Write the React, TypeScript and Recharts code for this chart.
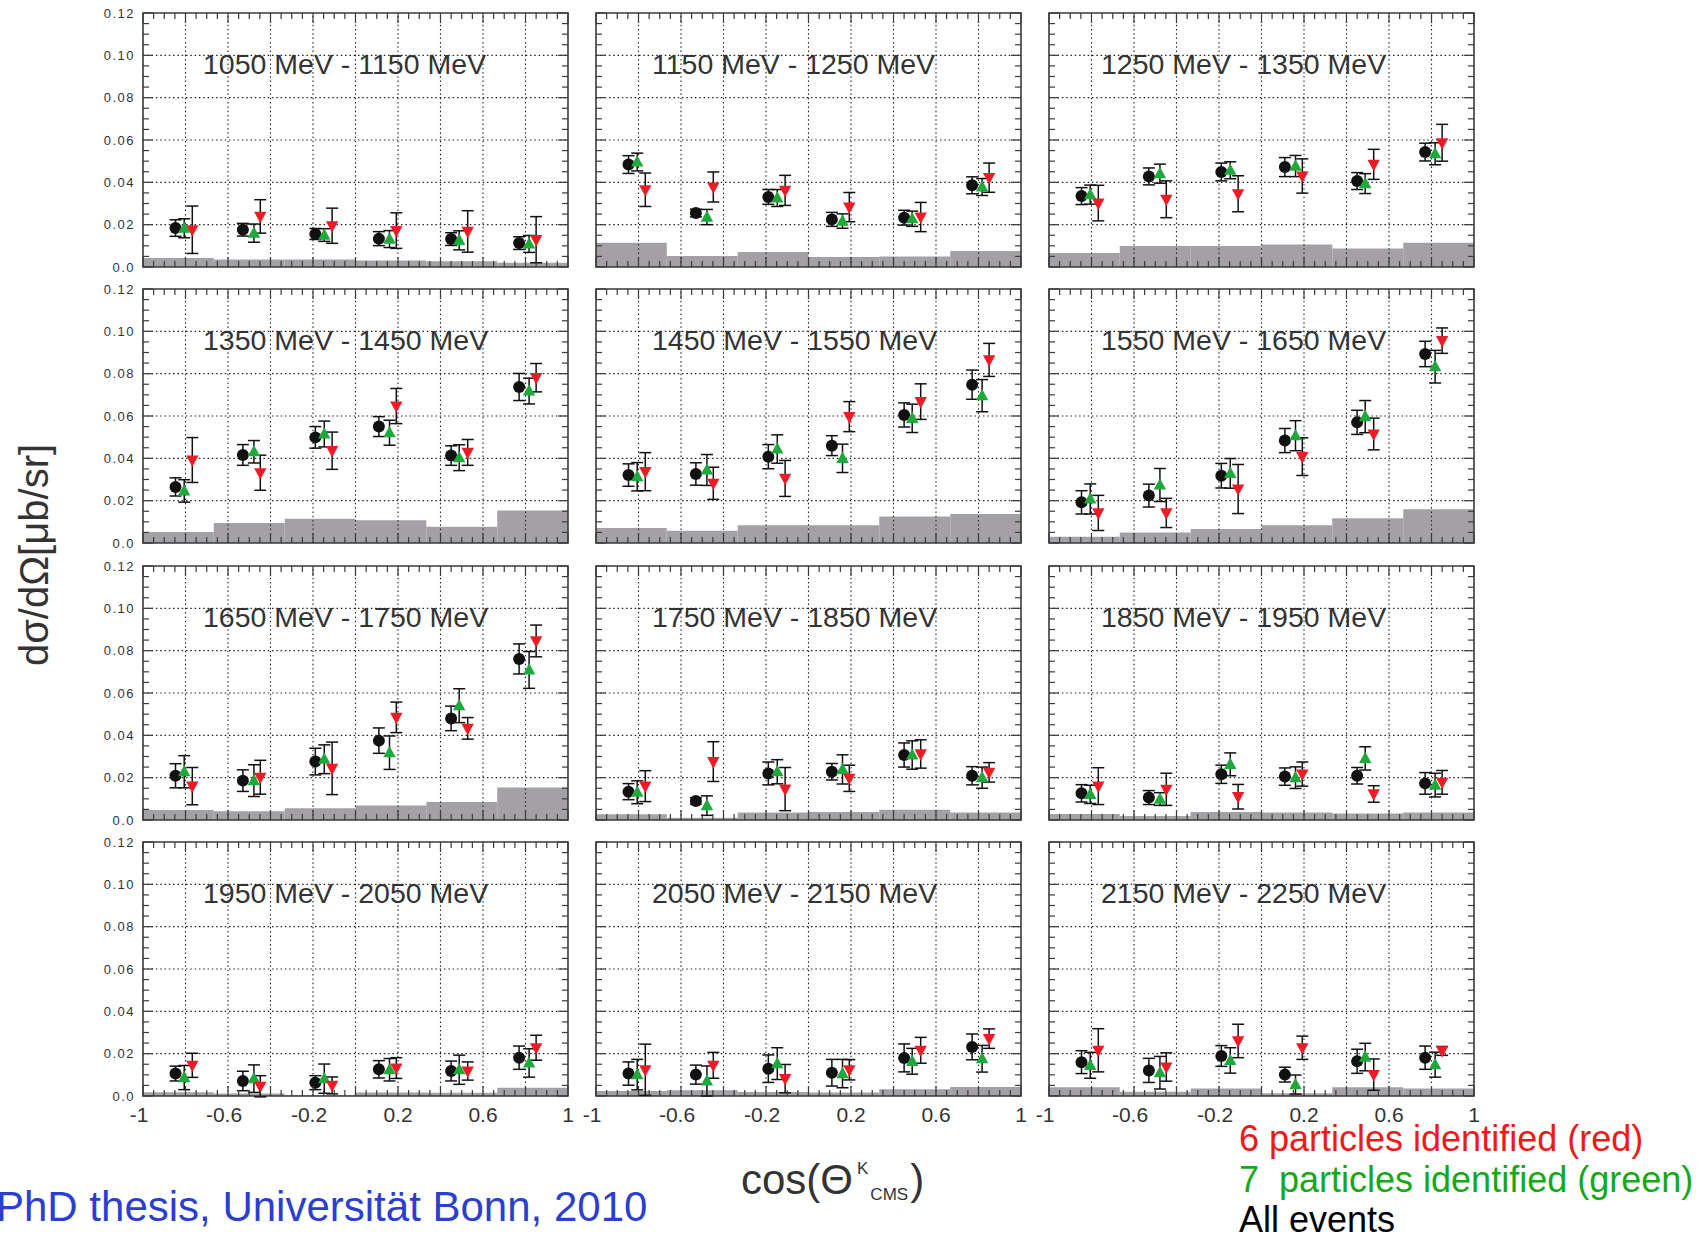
import React from "react";
import {
  ScatterChart,
  Scatter,
  XAxis,
  YAxis,
  ReferenceArea,
  ReferenceLine,
  ErrorBar,
} from "recharts";

// Energy bins, one panel each (row by row)
const ENERGY_BINS = [
  "1050 MeV - 1150 MeV",
  "1150 MeV - 1250 MeV",
  "1250 MeV - 1350 MeV",
  "1350 MeV - 1450 MeV",
  "1450 MeV - 1550 MeV",
  "1550 MeV - 1650 MeV",
  "1650 MeV - 1750 MeV",
  "1750 MeV - 1850 MeV",
  "1850 MeV - 1950 MeV",
  "1950 MeV - 2050 MeV",
  "2050 MeV - 2150 MeV",
  "2150 MeV - 2250 MeV",
];

// cos(theta) positions of the points of each event selection
const COS_ALL = [-0.847, -0.53, -0.189, 0.11, 0.45, 0.77];
const COS_SEVEN = [-0.806, -0.478, -0.147, 0.16, 0.488, 0.817];
const COS_SIX = [-0.768, -0.448, -0.11, 0.192, 0.528, 0.85];

// edges of the angular bins of the systematic band
const BIN_EDGES = [-1, -0.667, -0.333, 0, 0.333, 0.667, 1];

// All events (black circles), dsigma/dOmega [mub/sr]
const ALL_EVENTS = [
  [0.0184, 0.0176, 0.0156, 0.0134, 0.0132, 0.0113],
  [0.0484, 0.0255, 0.0331, 0.0225, 0.0233, 0.0386],
  [0.0335, 0.0428, 0.0449, 0.0472, 0.0406, 0.0543],
  [0.0265, 0.0416, 0.0499, 0.055, 0.0413, 0.0737],
  [0.0321, 0.0326, 0.0408, 0.046, 0.0605, 0.0748],
  [0.0192, 0.0224, 0.0318, 0.0484, 0.057, 0.0893],
  [0.0209, 0.0186, 0.0276, 0.0375, 0.048, 0.0761],
  [0.0134, 0.009, 0.022, 0.0228, 0.0307, 0.0209],
  [0.0126, 0.0106, 0.0216, 0.0205, 0.0209, 0.0173],
  [0.0106, 0.0071, 0.0063, 0.0126, 0.0118, 0.0181],
  [0.0106, 0.0101, 0.0129, 0.011, 0.018, 0.0232],
  [0.016, 0.0121, 0.0189, 0.0101, 0.0164, 0.0181],
];
const ALL_EVENTS_ERR = [
  [0.0039, 0.003, 0.0026, 0.0033, 0.003, 0.003],
  [0.0042, 0.0018, 0.0035, 0.0033, 0.0035, 0.004],
  [0.004, 0.004, 0.0042, 0.0045, 0.004, 0.0042],
  [0.0043, 0.0049, 0.0051, 0.0047, 0.0046, 0.0064],
  [0.0053, 0.0053, 0.0057, 0.0047, 0.0057, 0.0069],
  [0.0055, 0.0054, 0.0058, 0.0057, 0.0057, 0.006],
  [0.0057, 0.0051, 0.0063, 0.006, 0.0058, 0.0071],
  [0.0038, 0.0015, 0.0054, 0.0039, 0.0057, 0.0043],
  [0.0041, 0.0033, 0.0043, 0.0041, 0.0039, 0.0051],
  [0.0035, 0.0046, 0.0033, 0.0041, 0.0047, 0.0055],
  [0.0055, 0.0045, 0.0065, 0.0063, 0.0066, 0.0061],
  [0.0054, 0.0057, 0.0049, 0.0035, 0.0057, 0.0055],
];

// 7 particles identified (green triangles)
const SEVEN_ID = [
  [0.0183, 0.016, 0.0151, 0.0132, 0.0126, 0.0109],
  [0.0496, 0.0236, 0.0326, 0.0217, 0.0228, 0.0378],
  [0.0342, 0.0441, 0.0457, 0.0477, 0.0394, 0.0535],
  [0.0246, 0.0431, 0.0515, 0.0521, 0.0403, 0.0718],
  [0.0313, 0.0345, 0.0444, 0.04, 0.0589, 0.0696],
  [0.0208, 0.0274, 0.0329, 0.0507, 0.0597, 0.0833],
  [0.0228, 0.0186, 0.0287, 0.0318, 0.054, 0.0709],
  [0.0131, 0.0068, 0.0228, 0.0239, 0.0307, 0.02],
  [0.0121, 0.0099, 0.0263, 0.02, 0.0291, 0.0165],
  [0.0087, 0.0082, 0.0082, 0.0124, 0.0124, 0.0156],
  [0.0101, 0.0071, 0.0153, 0.0106, 0.0164, 0.0176],
  [0.0145, 0.011, 0.0168, 0.0054, 0.0184, 0.0148],
];
const SEVEN_ID_ERR = [
  [0.0045, 0.0043, 0.003, 0.004, 0.0045, 0.004],
  [0.0042, 0.0036, 0.004, 0.0034, 0.0036, 0.004],
  [0.0045, 0.0045, 0.004, 0.005, 0.0047, 0.0052],
  [0.0053, 0.0053, 0.0061, 0.0059, 0.0061, 0.0061],
  [0.0067, 0.0073, 0.0067, 0.0067, 0.0067, 0.0076],
  [0.0071, 0.0078, 0.007, 0.0071, 0.0076, 0.0077],
  [0.0076, 0.0075, 0.0068, 0.0079, 0.008, 0.0087],
  [0.0054, 0.0046, 0.0057, 0.0069, 0.0067, 0.005],
  [0.0043, 0.003, 0.0054, 0.0051, 0.0055, 0.0056],
  [0.0057, 0.0065, 0.0069, 0.0053, 0.0069, 0.0067],
  [0.0072, 0.0071, 0.0075, 0.0067, 0.0061, 0.0063],
  [0.0061, 0.0077, 0.006, 0.0045, 0.0065, 0.0059],
];

// 6 particles identified (red triangles)
const SIX_ID = [
  [0.0176, 0.0239, 0.0195, 0.0172, 0.0168, 0.0129],
  [0.0365, 0.0378, 0.0362, 0.0283, 0.0236, 0.0422],
  [0.0302, 0.032, 0.0346, 0.043, 0.0485, 0.0587],
  [0.0392, 0.0332, 0.0436, 0.0647, 0.0428, 0.0781],
  [0.0337, 0.0282, 0.0305, 0.0597, 0.0668, 0.0865],
  [0.0142, 0.0142, 0.0255, 0.0408, 0.0515, 0.0956],
  [0.016, 0.0202, 0.0244, 0.0485, 0.0433, 0.0846],
  [0.016, 0.0276, 0.0146, 0.0197, 0.0312, 0.0225],
  [0.016, 0.0145, 0.011, 0.0217, 0.0123, 0.0178],
  [0.0145, 0.0046, 0.005, 0.0132, 0.0118, 0.0228],
  [0.0124, 0.0145, 0.0082, 0.0124, 0.0216, 0.0271],
  [0.0216, 0.0137, 0.026, 0.0228, 0.0101, 0.0213],
];
const SIX_ID_ERR = [
  [0.0112, 0.0079, 0.0083, 0.0084, 0.0098, 0.0109],
  [0.0079, 0.0071, 0.0071, 0.0069, 0.0069, 0.0069],
  [0.0084, 0.0087, 0.0085, 0.0081, 0.0071, 0.0087],
  [0.0106, 0.0083, 0.0088, 0.0083, 0.0061, 0.0067],
  [0.009, 0.0076, 0.0085, 0.0071, 0.0084, 0.0078],
  [0.0083, 0.0069, 0.0116, 0.0089, 0.0075, 0.006],
  [0.0088, 0.008, 0.0124, 0.0072, 0.0051, 0.0075],
  [0.0073, 0.0094, 0.0102, 0.0062, 0.0067, 0.0046],
  [0.0087, 0.0076, 0.0058, 0.0057, 0.0039, 0.0056],
  [0.0057, 0.005, 0.004, 0.0049, 0.0043, 0.0059],
  [0.0121, 0.0061, 0.0067, 0.0048, 0.0061, 0.0046],
  [0.0102, 0.0067, 0.0079, 0.0055, 0.0074, 0.0021],
];

// systematic uncertainty band (grey histogram)
const SYSTEMATIC = [
  [0.0043, 0.0035, 0.0036, 0.0031, 0.0027, 0.002],
  [0.0115, 0.0052, 0.0071, 0.0047, 0.005, 0.0076],
  [0.0066, 0.0099, 0.0099, 0.0106, 0.0087, 0.0115],
  [0.0052, 0.0095, 0.0114, 0.0107, 0.0077, 0.0153],
  [0.0071, 0.0058, 0.0084, 0.0084, 0.0125, 0.0137],
  [0.003, 0.005, 0.0066, 0.0084, 0.0117, 0.016],
  [0.0047, 0.0041, 0.0055, 0.0068, 0.0085, 0.0154],
  [0.0027, 0.0011, 0.0035, 0.0038, 0.0049, 0.0035],
  [0.0028, 0.0019, 0.0038, 0.0035, 0.0031, 0.0035],
  [0.0018, 0.0012, 0.0004, 0.0017, 0.0015, 0.0039],
  [0.0024, 0.0027, 0.0019, 0.0016, 0.0032, 0.0043],
  [0.0041, 0.002, 0.0036, 0.0013, 0.0041, 0.0036],
];

// axis labels
const X_LABEL_VALUES = [-1, -0.6, -0.2, 0.2, 0.6, 1];
const X_LABELS = ["-1", "-0.6", "-0.2", "0.2", "0.6", "1"];
const Y_LABEL_VALUES = [0, 0.02, 0.04, 0.06, 0.08, 0.1, 0.12];
const Y_LABELS = ["0.0", "0.02", "0.04", "0.06", "0.08", "0.10", "0.12"];
const X_GRID = [-0.8, -0.6, -0.4, -0.2, 0, 0.2, 0.4, 0.6, 0.8];
const Y_GRID = [0.02, 0.04, 0.06, 0.08, 0.1];

// minor tick positions
const X_TICKS = Array.from({ length: 41 }, (_, i) => Math.round((-1 + i * 0.05) * 1000) / 1000);
const Y_TICKS = Array.from({ length: 25 }, (_, i) => Math.round(i * 0.005 * 10000) / 10000);

// layout
const PLOT_W = 425;
const PLOT_H = 254;
const COL_LEFT = [143, 596, 1049];
const ROW_TOP = [13, 289, 566, 842];
const TITLE_X = [203, 652, 1101];
const AXIS_W = 70;
const PAD_TOP = 10;
const PAD_RIGHT = 14;
const AXIS_H = 40;

const FONT = "'Liberation Sans', Arial, Helvetica, sans-serif";
const FRAME = "#3a3a3a";
const TEXT = "#333333";
const GREY = "#a4a1a6";
const BLACK = "#111111";
const GREEN = "#1fa83c";
const RED = "#ec1c27";

const near = (a: number, b: number) => Math.abs(a - b) < 1e-6;

function XTick(props: any) {
  const { x, y, payload, showLabel } = props;
  const v = payload.value;
  const major = near(v * 5, Math.round(v * 5));
  const len = major ? 10 : 6;
  const li = X_LABEL_VALUES.findIndex((t) => near(t, v));
  return (
    <g>
      <line x1={x} y1={y} x2={x} y2={y - len} stroke={FRAME} strokeWidth={1.2} />
      <line x1={x} y1={y - PLOT_H} x2={x} y2={y - PLOT_H + len} stroke={FRAME} strokeWidth={1.2} />
      {showLabel && li >= 0 ? (
        <text
          x={x + (v < 0 ? -4 : 0)}
          y={y + 25.5}
          textAnchor="middle"
          fontSize={21}
          fontFamily={FONT}
          fill={TEXT}
        >
          {X_LABELS[li]}
        </text>
      ) : null}
    </g>
  );
}

function YTick(props: any) {
  const { x, y, payload, showLabel } = props;
  const v = payload.value;
  const major = near(v * 50, Math.round(v * 50));
  const len = major ? 10 : 6;
  const li = Y_LABEL_VALUES.findIndex((t) => near(t, v));
  return (
    <g>
      <line x1={x} y1={y} x2={x + len} y2={y} stroke={FRAME} strokeWidth={1.2} />
      <line x1={x + PLOT_W} y1={y} x2={x + PLOT_W - len} y2={y} stroke={FRAME} strokeWidth={1.2} />
      {showLabel && li >= 0 ? (
        <text
          x={x - 8}
          y={y}
          dy="0.36em"
          textAnchor="end"
          fontSize={13}
          letterSpacing={1.5}
          fontFamily={FONT}
          fill={TEXT}
        >
          {Y_LABELS[li]}
        </text>
      ) : null}
    </g>
  );
}

const circleShape = (p: any) => <circle cx={p.cx} cy={p.cy} r={6} fill={BLACK} />;
const upTriangle = (p: any) => (
  <polygon
    points={`${p.cx},${p.cy - 6.8} ${p.cx - 6.2},${p.cy + 4.6} ${p.cx + 6.2},${p.cy + 4.6}`}
    fill={GREEN}
  />
);
const downTriangle = (p: any) => (
  <polygon
    points={`${p.cx - 6.2},${p.cy - 4.6} ${p.cx + 6.2},${p.cy - 4.6} ${p.cx},${p.cy + 6.8}`}
    fill={RED}
  />
);

const toPoints = (xs: number[], ys: number[], es: number[]) =>
  xs.map((x, i) => ({ x, y: ys[i], e: es[i] }));

function Panel({ idx }: { idx: number }) {
  const row = Math.floor(idx / 3);
  const col = idx % 3;
  const showY = col === 0;
  const showX = row === 3;
  const all = toPoints(COS_ALL, ALL_EVENTS[idx], ALL_EVENTS_ERR[idx]);
  const seven = toPoints(COS_SEVEN, SEVEN_ID[idx], SEVEN_ID_ERR[idx]);
  const six = toPoints(COS_SIX, SIX_ID[idx], SIX_ID_ERR[idx]);
  const sys = SYSTEMATIC[idx];
  return (
    <div style={{ position: "absolute", left: COL_LEFT[col] - AXIS_W, top: ROW_TOP[row] - PAD_TOP }}>
      <ScatterChart
        width={AXIS_W + PLOT_W + PAD_RIGHT}
        height={PAD_TOP + PLOT_H + AXIS_H}
        margin={{ top: PAD_TOP, right: PAD_RIGHT, bottom: 0, left: 0 }}
      >
        {X_GRID.map((v) => (
          <ReferenceLine key={`gx${v}`} x={v} stroke="#222" strokeWidth={1.1} strokeDasharray="1.5 2.8" />
        ))}
        {Y_GRID.map((v) => (
          <ReferenceLine key={`gy${v}`} y={v} stroke="#222" strokeWidth={1.1} strokeDasharray="1.5 2.8" />
        ))}
        {sys.map((s, i) => (
          <ReferenceArea
            key={`sys${i}`}
            x1={BIN_EDGES[i]}
            x2={BIN_EDGES[i + 1]}
            y1={0}
            y2={s}
            fill={GREY}
            fillOpacity={1}
            stroke="none"
          />
        ))}
        <ReferenceArea x1={-1} x2={1} y1={0} y2={0.12} fill="none" stroke={FRAME} strokeWidth={1.6} />
        <XAxis
          type="number"
          dataKey="x"
          domain={[-1, 1]}
          allowDataOverflow
          ticks={X_TICKS}
          interval={0}
          tickSize={0}
          tickMargin={0}
          tickLine={false}
          axisLine={false}
          height={AXIS_H}
          tick={(p: any) => <XTick {...p} showLabel={showX} />}
        />
        <YAxis
          type="number"
          dataKey="y"
          domain={[0, 0.12]}
          allowDataOverflow
          ticks={Y_TICKS}
          interval={0}
          tickSize={0}
          tickMargin={0}
          tickLine={false}
          axisLine={false}
          width={AXIS_W}
          tick={(p: any) => <YTick {...p} showLabel={showY} />}
        />
        <Scatter data={all} shape={circleShape} isAnimationActive={false}>
          <ErrorBar dataKey="e" direction="y" width={6} stroke={BLACK} strokeWidth={1.5} />
        </Scatter>
        <Scatter data={seven} shape={upTriangle} isAnimationActive={false}>
          <ErrorBar dataKey="e" direction="y" width={6} stroke={BLACK} strokeWidth={1.5} />
        </Scatter>
        <Scatter data={six} shape={downTriangle} isAnimationActive={false}>
          <ErrorBar dataKey="e" direction="y" width={6} stroke={BLACK} strokeWidth={1.5} />
        </Scatter>
      </ScatterChart>
    </div>
  );
}

export default function App() {
  return (
    <div
      style={{
        position: "absolute",
        left: 0,
        top: 0,
        width: 1697,
        height: 1237,
        overflow: "hidden",
        background: "#ffffff",
      }}
    >
      {ENERGY_BINS.map((_, i) => (
        <Panel key={i} idx={i} />
      ))}
      <svg
        width={1697}
        height={1237}
        style={{ position: "absolute", left: 0, top: 0, pointerEvents: "none" }}
        fontFamily={FONT}
      >
        {ENERGY_BINS.map((t, i) => (
          <text
            key={t}
            x={TITLE_X[i % 3]}
            y={ROW_TOP[Math.floor(i / 3)] + 61}
            fontSize={28.5}
            fill={TEXT}
          >
            {t}
          </text>
        ))}
        <text x={48} y={555} fontSize={40} fill={TEXT} textAnchor="middle" transform="rotate(-90 48 555)">
          dσ/dΩ[μb/sr]
        </text>
        <text x={741} y={1194} fontSize={42} fill={TEXT}>
          cos(Θ
          <tspan fontSize={17} dx={4} dy={-20}>
            K
          </tspan>
          <tspan fontSize={17} dx={2} dy={26}>
            CMS
          </tspan>
          <tspan fontSize={42} dx={2} dy={-6}>
            )
          </tspan>
        </text>
        <text x={-4} y={1221} fontSize={42} fill="#2a3fd0">
          PhD thesis, Universität Bonn, 2010
        </text>
        <text x={1239} y={1151} fontSize={36} fill="#f01818" style={{ whiteSpace: "pre" }}>
          6 particles identified (red)
        </text>
        <text x={1239} y={1192} fontSize={36} fill="#16a816" style={{ whiteSpace: "pre" }}>
          {"7  particles identified (green)"}
        </text>
        <text x={1239} y={1232} fontSize={36} fill="#000000">
          All events
        </text>
      </svg>
    </div>
  );
}
